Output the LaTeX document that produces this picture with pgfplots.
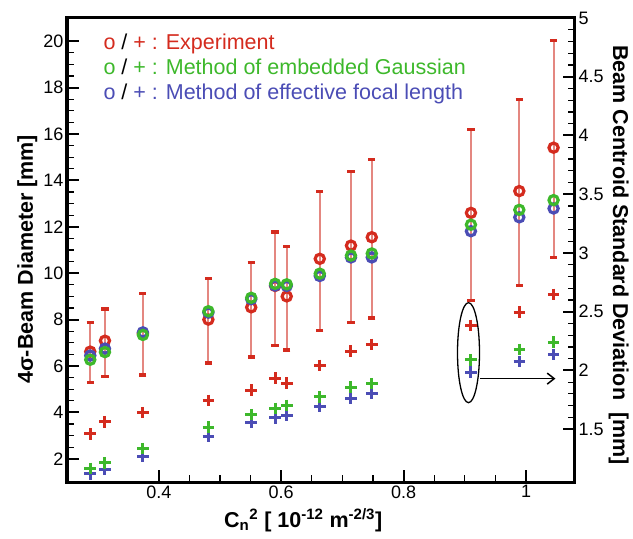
\documentclass[border=0pt]{standalone}
\usepackage{fontspec}
\setmainfont{Liberation Sans}
\usepackage{pgfplots}
\pgfplotsset{compat=1.18}
\usepackage{pgfplotstable}
\usetikzlibrary{arrows.meta}

\definecolor{cRed}{RGB}{212,43,30}
\definecolor{cGreen}{RGB}{61,184,43}
\definecolor{cBlue}{RGB}{75,77,181}
\definecolor{cErr}{RGB}{228,135,128}

% x, experiment diameter (+/- errors), embedded Gaussian, effective focal length,
% then centroid std. dev. for experiment / embedded Gaussian / effective focal length
\pgfplotstableread{
x     y      ep    em    g      b      pr     pg     pb
0.288 6.62   1.25  1.34  6.27   6.45   1.460  1.165  1.120
0.312 7.09   1.37  1.54  6.60   6.75   1.563  1.214  1.157
0.374 7.40   1.71  1.79  7.34   7.45   1.640  1.336  1.270
0.481 8.00   1.76  1.87  8.36   8.30   1.744  1.517  1.440
0.551 8.53   1.92  2.14  8.94   8.88   1.832  1.623  1.555
0.590 9.45   2.33  2.57  9.54   9.47   1.934  1.676  1.597
0.609 9.00   2.14  2.31  9.52   9.45   1.892  1.702  1.620
0.663 10.62  2.89  3.09  9.98   9.88   2.043  1.776  1.696
0.714 11.19  3.18  3.33  10.76  10.68  2.164  1.858  1.761
0.748 11.55  3.34  3.48  10.85  10.68  2.221  1.887  1.804
0.910 12.60  3.59  3.77  12.09  11.81  2.383  2.091  1.986
0.989 13.54  3.94  4.07  12.73  12.41  2.497  2.179  2.077
1.045 15.41  4.62  4.75  13.15  12.79  2.647  2.241  2.136
}\beamdata

\pgfplotsset{
  beamframe/.style={
    width=508bp, height=464bp, scale only axis,
    at={(0,0)}, anchor=south west,
    xmin=0.25, xmax=1.08,
    xtick={0.4,0.6,0.8,1}, minor x tick num=3,
    tick align=inside,
    major tick length=12bp, minor tick length=7bp,
    major tick style={line width=2bp, black},
    minor tick style={line width=1.2bp, black},
    axis line style={line width=3bp},
    tick label style={font=\fontsize{18bp}{20bp}\selectfont},
    /pgf/number format/assume math mode=true,
  },
  circ/.style={only marks, mark=o, mark size=4.6bp,
    mark options={line width=3.2bp}},
  cross/.style={only marks, mark=+, mark size=5.8bp,
    mark options={line width=3bp}},
}

\begin{document}
\begin{tikzpicture}
\useasboundingbox (-67bp,-57bp) rectangle (566bp,482bp);

\begin{axis}[beamframe,
  ymin=1, ymax=21,
  ytick={2,4,...,20}, minor y tick num=3,
  xtick pos=bottom, ytick pos=left,
  xlabel={C\textsubscript{n}\textsuperscript{2} [ 10\textsuperscript{-12} m\textsuperscript{-2/3}]},
  ylabel={4σ-Beam Diameter [mm]},
  every axis x label/.style={at={(axis description cs:0.465,-0.097)}, anchor=base,
    font=\bfseries\fontsize{21.5bp}{24bp}\selectfont},
  every axis y label/.style={at={(axis description cs:-0.067,0.48)}, anchor=base,
    rotate=90, font=\bfseries\fontsize{21.5bp}{24bp}\selectfont},
]
%% experiment, with its spread
\addplot[circ, draw=cRed,
  error bars/.cd, y dir=both, y explicit,
  error bar style={line width=1.9bp, cErr, solid},
  error mark options={rotate=90, mark size=3.6bp, line width=3.2bp, cRed}]
  table[x=x, y=y, y error plus=ep, y error minus=em] {\beamdata};
\addplot[circ, draw=cBlue] table[x=x, y=b] {\beamdata};
\addplot[circ, draw=cGreen] table[x=x, y=g] {\beamdata};

\node[anchor=base west, font=\fontsize{21.5bp}{25bp}\selectfont]
  at ([xshift=33bp, yshift=-31.5bp]rel axis cs:0,1)
  {\color{cRed}o \color{black}/ \color{cRed}+ : Experiment};
\node[anchor=base west, font=\fontsize{21.5bp}{25bp}\selectfont]
  at ([xshift=33bp, yshift=-56.5bp]rel axis cs:0,1)
  {\color{cGreen}o \color{black}/ \color{cGreen}+ : Method of embedded Gaussian};
\node[anchor=base west, font=\fontsize{21.5bp}{25bp}\selectfont]
  at ([xshift=33bp, yshift=-82bp]rel axis cs:0,1)
  {\color{cBlue}o \color{black}/ \color{cBlue}+ : Method of effective focal length};
\end{axis}

\begin{axis}[beamframe,
  axis x line=none, axis y line*=right,
  ymin=1.05, ymax=5,
  ytick={1.5,2,...,5}, minor y tick num=4,
  ylabel={Beam Centroid Standard Deviation\ \ [mm]},
  every axis y label/.style={at={(axis description cs:1.075,0.489)}, anchor=base,
    rotate=-90, font=\bfseries\fontsize{21.5bp}{24bp}\selectfont},
  clip=false,
]
\addplot[cross, draw=cRed] table[x=x, y=pr] {\beamdata};
\addplot[cross, draw=cBlue] table[x=x, y=pb] {\beamdata};
\addplot[cross, draw=cGreen] table[x=x, y=pg] {\beamdata};

\draw[line width=1.3bp] (axis cs:0.906,2.151) ellipse [x radius=11bp, y radius=50bp];
\draw[line width=1.5bp, -{Straight Barb[length=7bp, width=11bp]}]
  (axis cs:0.925,1.93) -- (axis cs:1.048,1.93);
\end{axis}
\end{tikzpicture}
\end{document}
